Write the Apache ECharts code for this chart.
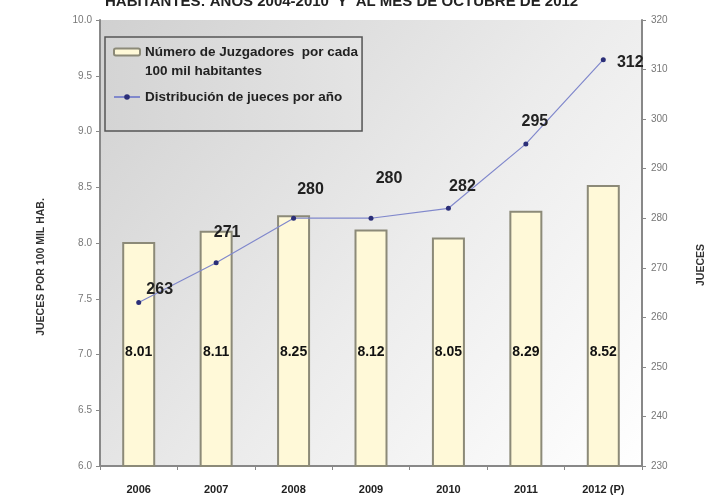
<!DOCTYPE html>
<html><head><meta charset="utf-8">
<script src="https://cdn.jsdelivr.net/npm/echarts@6/dist/echarts.min.js"></script>
<style>html,body{margin:0;padding:0;background:#fff}#c{width:709px;height:499px}</style>
</head><body><div id="c"></div>
<script>
const categories = ['2006','2007','2008','2009','2010','2011','2012 (P)'];
const juzgadoresPor100mil = [8.01, 8.11, 8.25, 8.12, 8.05, 8.29, 8.52];
const juecesPorAnio = [263, 271, 280, 280, 282, 295, 312];
const leftTicks = {min: 6, max: 10, interval: 0.5};
const rightTicks = {min: 230, max: 320, interval: 10};
const labelOffsets = [[21,-13],[11,-30],[17,-29],[18,-40],[14,-22],[9,-22],[27,3]];

const FONT = "'Liberation Sans Narrow','Liberation Sans',Arial,sans-serif";
const barName = 'Número de Juzgadores  por cada\n100 mil habitantes';
const lineName = 'Distribución de jueces por año';
const chart = echarts.init(document.getElementById('c'));
chart.setOption({
  animation: false,
  backgroundColor: '#fff',
  title: {
    text: 'HABITANTES: AÑOS 2004-2010  Y  AL MES DE OCTUBRE DE 2012',
    left: 105, top: -6, padding: 0,
    textStyle: {fontFamily: FONT, fontSize: 15, fontWeight: 'bold', color: '#222'}
  },
  grid: {
    left: 100, right: 67, top: 20, bottom: 33,
    outerBoundsMode: 'none', containLabel: false,
    show: true, borderWidth: 0,
    backgroundColor: new echarts.graphic.LinearGradient(0, 0, 1, 1, [
      {offset: 0, color: '#d0d0d0'}, {offset: 0.55, color: '#ececec'}, {offset: 1, color: '#ffffff'}
    ])
  },
  legend: {
    orient: 'vertical', left: 105, top: 37,
    padding: [-13.5, 4, 24.5, 8], itemGap: 7,
    itemWidth: 26, itemHeight: 7,
    backgroundColor: new echarts.graphic.LinearGradient(0, 0, 1, 0, [
      {offset: 0, color: '#d4d4d4'}, {offset: 1, color: '#e4e4e4'}
    ]),
    borderColor: '#555', borderWidth: 1.5,
    textStyle: {fontFamily: FONT, fontSize: 13.5, fontWeight: 'bold', color: '#222', lineHeight: 19},
    formatter: n => (n === barName ? '\n' + n : n),
    data: [{name: barName}, {name: lineName}]
  },
  xAxis: {
    type: 'category', data: categories,
    axisLine: {lineStyle: {color: '#888', width: 2}},
    axisTick: {show: true, length: 4, lineStyle: {color: '#888'}},
    axisLabel: {fontFamily: FONT, fontSize: 11, fontWeight: 'bold', color: '#222', margin: 18}
  },
  yAxis: [{
    type: 'value', min: leftTicks.min, max: leftTicks.max, interval: leftTicks.interval,
    name: 'JUECES POR 100 MIL HAB.', nameLocation: 'middle', nameGap: 53, nameRotate: 90,
    nameTextStyle: {fontFamily: FONT, fontSize: 10.5, fontWeight: 'bold', color: '#333', padding: [0, 48, 0, 0]},
    axisLine: {show: true, lineStyle: {color: '#888', width: 2}},
    axisTick: {show: true, length: 4, lineStyle: {color: '#888'}},
    splitLine: {show: false},
    axisLabel: {fontFamily: FONT, fontSize: 10, color: '#777', margin: 8,
      formatter: v => v.toFixed(1)}
  }, {
    type: 'value', min: rightTicks.min, max: rightTicks.max, interval: rightTicks.interval,
    position: 'right',
    name: 'JUECES', nameLocation: 'middle', nameGap: 54, nameRotate: 90,
    nameTextStyle: {fontFamily: FONT, fontSize: 10.5, fontWeight: 'bold', color: '#333', padding: [0, 44, 0, 0]},
    axisLine: {show: true, lineStyle: {color: '#888', width: 2}},
    axisTick: {show: true, length: 4, lineStyle: {color: '#888'}},
    splitLine: {show: false},
    axisLabel: {fontFamily: FONT, fontSize: 10, color: '#777', margin: 9}
  }],
  series: [{
    name: barName,
    type: 'bar', yAxisIndex: 0, barWidth: 33,
    data: juzgadoresPor100mil,
    itemStyle: {color: '#fff9d8', borderColor: '#8c8a78', borderWidth: 2},
    label: {show: true, position: 'insideBottom', distance: 108,
      fontFamily: FONT, fontSize: 14, fontWeight: 'bold', color: '#111',
      formatter: p => p.value.toFixed(2)}
  }, {
    name: lineName,
    type: 'line', yAxisIndex: 1,
    data: juecesPorAnio.map((v, i) => ({value: v, label: {offset: labelOffsets[i]}})),
    lineStyle: {color: '#8088cc', width: 1.2},
    itemStyle: {color: '#2b2f78'},
    symbol: 'circle', symbolSize: 5,
    label: {show: true, position: 'inside',
      fontFamily: FONT, fontSize: 16, fontWeight: 'bold', color: '#222'}
  }]
});
</script></body></html>
